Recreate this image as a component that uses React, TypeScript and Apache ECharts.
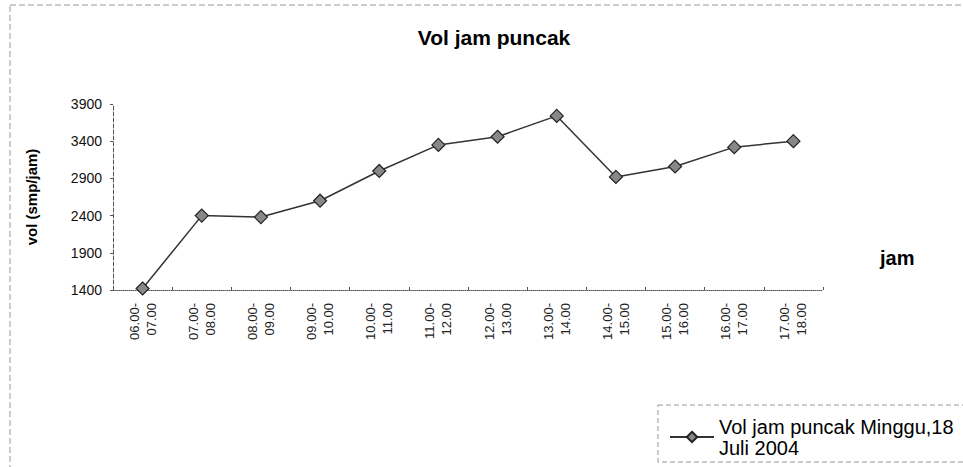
import React, { useEffect, useRef } from "react";
import * as echarts from "echarts";

const categories = [
  "06.00-\n07.00", "07.00-\n08.00", "08.00-\n09.00", "09.00-\n10.00",
  "10.00-\n11.00", "11.00-\n12.00", "12.00-\n13.00", "13.00-\n14.00",
  "14.00-\n15.00", "15.00-\n16.00", "16.00-\n17.00", "17.00-\n18.00",
];
const volumes = [1420, 2400, 2380, 2600, 3000, 3350, 3460, 3740, 2920, 3060, 3320, 3400];
const yTicks = [1400, 1900, 2400, 2900, 3400, 3900];
const seriesName = "Vol jam puncak Minggu,18\nJuli 2004";
const titleText = "Vol jam puncak";
const yAxisName = "vol (smp/jam)";
const xAxisName = "jam";

export default function App() {
  const ref = useRef<HTMLDivElement>(null);
  useEffect(() => {
    if (!ref.current) return;
    const chart = echarts.init(ref.current, null, { renderer: "svg" });
    const font = "'Liberation Sans', Arial, sans-serif";
    chart.setOption({
      animation: false,
      backgroundColor: "#fff",
      textStyle: { fontFamily: font },
      title: {
        text: titleText,
        left: 489,
        top: 22,
        textAlign: "center",
        textStyle: { fontSize: 21, fontWeight: "bold", color: "#000", fontFamily: font },
      },
      grid: { left: 113, right: 140, top: 104, bottom: 177, containLabel: false },
      xAxis: {
        type: "category",
        data: categories,
        boundaryGap: true,
        axisLine: { lineStyle: { color: "#555", width: 1, type: "dotted" } },
        axisTick: { show: true, inside: true, length: 3, lineStyle: { color: "#555" } },
        axisLabel: {
          rotate: 90,
          interval: 0,
          fontSize: 13,
          lineHeight: 17,
          color: "#222",
          margin: 13,
          fontFamily: font,
        },
        splitLine: { show: false },
      },
      yAxis: {
        type: "value",
        min: yTicks[0],
        max: yTicks[yTicks.length - 1],
        interval: yTicks[1] - yTicks[0],
        name: yAxisName,
        nameLocation: "middle",
        nameGap: 74,
        nameTextStyle: { fontSize: 15, fontWeight: "bold", color: "#000", fontFamily: font },
        axisLine: { show: true, lineStyle: { color: "#555", width: 1, type: "dashed" } },
        axisTick: { show: true, length: 3, lineStyle: { color: "#555" } },
        axisLabel: {
          fontSize: 14,
          color: "#111",
          margin: 11,
          fontFamily: font,
          formatter: (v: number) => String(v),
        },
        splitLine: { show: false },
      },
      legend: {
        show: true,
        left: 664,
        top: 411,
        itemWidth: 44,
        itemHeight: 13,
        itemGap: 4,
        textStyle: { fontSize: 20, color: "#000", lineHeight: 21, fontFamily: font },
      },
      graphic: [
        {
          type: "rect",
          shape: { x: 10, y: 5, width: 960, height: 470 },
          style: { fill: "none", stroke: "#999", lineWidth: 1, lineDash: [6, 3] },
          silent: true,
        },
        {
          type: "rect",
          shape: { x: 658, y: 405, width: 320, height: 57 },
          style: { fill: "none", stroke: "#999", lineWidth: 1, lineDash: [5, 3] },
          silent: true,
        },
        {
          type: "text",
          left: 880,
          top: 248,
          style: { text: xAxisName, fontSize: 20, fontWeight: "bold", fill: "#000", fontFamily: font },
        },
      ],
      series: [
        {
          name: seriesName,
          type: "line",
          data: volumes,
          symbol: "diamond",
          symbolSize: 13,
          lineStyle: { color: "#333", width: 1.5 },
          itemStyle: { color: "#888", borderColor: "#222", borderWidth: 1.2 },
        },
      ],
    });
    return () => chart.dispose();
  }, []);
  return <div ref={ref} style={{ width: 963, height: 467, position: "absolute", left: 0, top: 0 }} />;
}
